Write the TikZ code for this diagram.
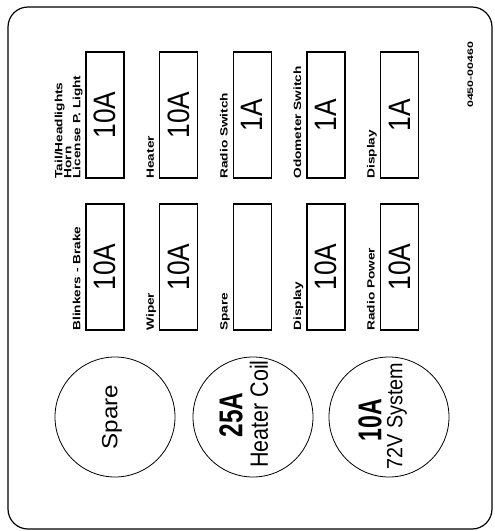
\documentclass[tikz,border=0pt]{standalone}
\usepackage{fontspec}
\setmainfont{Liberation Sans}
\usetikzlibrary{positioning, calc}

% squeeze or stretch a text along its length
\newcommand{\hs}[2]{\scalebox{#1}[1]{#2}}

\tikzset{
  fuse/.style={draw, line width=1.4pt, rotate=90, minimum width=126pt, minimum height=38pt,
               inner sep=0pt, font=\fontsize{31}{31}\selectfont},
  lbl/.style={rotate=90, anchor=base west, inner sep=0pt, font=\bfseries\fontsize{10.5}{10.5}\selectfont},
  maxi/.style={draw, circle, line width=0.8pt, minimum size=120pt, inner sep=0pt},
  maxitext/.style={rotate=90, inner sep=0pt}
}

\begin{document}
\begin{tikzpicture}[x=1pt, y=-1pt]
  \useasboundingbox (0,0) rectangle (495,531);

  % outer panel
  \draw[line width=1.2pt, rounded corners=20pt] (8,7) rectangle (492,529);

  % part number
  \node[lbl, font=\bfseries\fontsize{8}{8}\selectfont] (partno) at (473,108) {\hs{1.55}{0450-00460}};

  % upper row of fuses
  \foreach \i/\amp/\txt in {0/10A/License P. Light, 1/10A/Heater, 2/1A/Radio Switch,
                            3/1A/Odometer Switch, 4/1A/Display} {
    \node[fuse] (top\i) at ({105+73.6*\i},115) {\hs{0.85}{\amp}};
    \node[lbl] (toplbl\i) at ([xshift=-5pt]top\i.north west) {\hs{1.3}{\txt}};
  }
  \node[lbl] (horn) at ([xshift=-14pt]top0.north west) {\hs{1.3}{Horn}};
  \node[lbl] (tail) at ([xshift=-23pt]top0.north west) {\hs{1.3}{Tail/Headlights}};

  % lower row of fuses
  \foreach \i/\amp/\txt in {0/10A/Blinkers - Brake, 1/10A/Wiper, 2//Spare,
                            3/10A/Display, 4/10A/Radio Power} {
    \node[fuse] (bot\i) at ({105+73.6*\i},267) {\hs{0.85}{\amp}};
    \node[lbl] (botlbl\i) at ([xshift=-5pt]bot\i.north west) {\hs{1.3}{\txt}};
  }

  % maxi fuses
  \node[maxi] (spare) at (115,417) {};
  \node[maxi] (coil) at (253,417) {};
  \node[maxi] (sys) at (389,417) {};

  \node[maxitext, font=\fontsize{22}{22}\selectfont] (sparetxt) at ([xshift=-3pt]spare.center) {\hs{1.1}{Spare}};
  \node[maxitext, font=\bfseries\fontsize{33}{33}\selectfont] (coilamp) at ([xshift=-22pt, yshift=2pt]coil.center) {\hs{0.74}{25A}};
  \node[maxitext, font=\fontsize{25}{25}\selectfont] (coiltxt) at ([xshift=6pt, yshift=3pt]coil.center) {\hs{0.86}{Heater Coil}};
  \node[maxitext, font=\bfseries\fontsize{33}{33}\selectfont] (sysamp) at ([xshift=-19pt, yshift=-3pt]sys.center) {\hs{0.7}{10A}};
  \node[maxitext, font=\fontsize{22}{22}\selectfont] (systxt) at ([xshift=8pt, yshift=1pt]sys.center) {\hs{0.9}{72V System}};
\end{tikzpicture}
\end{document}
